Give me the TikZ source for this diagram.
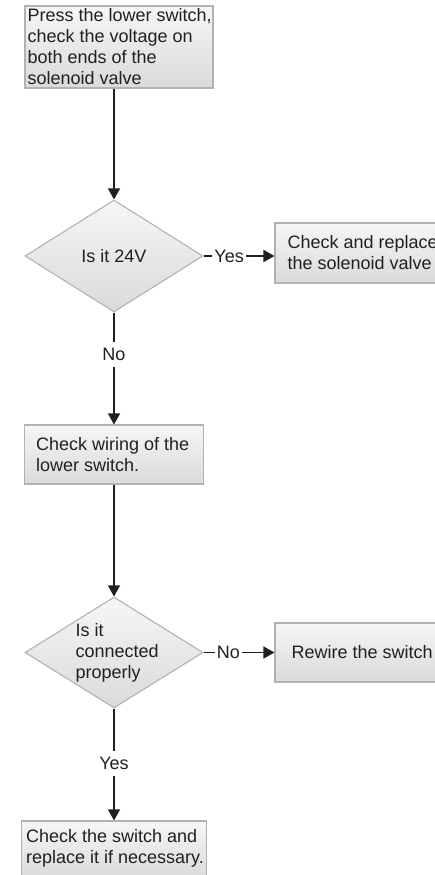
\documentclass[tikz,border=0pt]{standalone}
\usepackage{fontspec}
\setmainfont{Liberation Sans}
\usetikzlibrary{shapes.geometric,arrows.meta,shadings}
\definecolor{ink}{HTML}{231F20}
\definecolor{edge}{HTML}{B2B2B2}
\definecolor{boxtop}{HTML}{F6F6F6}
\definecolor{boxbot}{HTML}{DADADA}
\begin{document}
\begin{tikzpicture}[x=1pt,y=-1pt,
  font=\fontsize{18}{21}\selectfont,
  box/.style={draw=edge,line width=1.1pt,top color=boxtop,bottom color=boxbot,inner sep=0pt},
  dec/.style={diamond,draw=edge,line width=1.1pt,top color=boxtop,bottom color=boxbot,inner sep=0pt},
  txt/.style={text=ink,align=left,inner sep=0pt},
  arr/.style={draw=ink,line width=1.4pt,-{Triangle[width=12pt,length=11pt]}},
  lab/.style={fill=white,text=ink,inner xsep=2pt,inner ysep=6pt}]
\useasboundingbox (0,0) rectangle (435,875);
\clip (0,0) rectangle (435,875);
% boxes and decisions
\node[box,minimum width=188pt,minimum height=82pt] (b1) at (119,47) {};
\node[txt,anchor=west] (t1) at ([xshift=3pt]b1.west) {Press the lower switch,\\check the voltage on\\both ends of the\\solenoid valve};
\node[dec,minimum width=178pt,minimum height=112pt] (d1) at (114,256) {};
\node[txt] (t2) at (d1.center) {Is it 24V};
\node[box,minimum width=200pt,minimum height=60pt] (b2) at (375,253) {};
\node[txt,anchor=west] (t3) at ([xshift=13pt]b2.west) {Check and replace\\the solenoid valve};
\node[box,minimum width=179pt,minimum height=59pt] (b3) at (114,454.5) {};
\node[txt,anchor=west] (t4) at ([xshift=12pt]b3.west) {Check wiring of the\\lower switch.};
\node[dec,minimum width=178pt,minimum height=111pt] (d2) at (114,652.5) {};
\node[txt,anchor=west] (t5) at ([xshift=51pt]d2.west) {Is it\\connected\\properly};
\node[box,minimum width=200pt,minimum height=59pt] (b4) at (375,652.5) {};
\node[txt,anchor=west] (t6) at ([xshift=17pt]b4.west) {Rewire the switch};
\node[box,minimum width=185pt,minimum height=58pt] (b5) at (114,850) {};
\node[txt,anchor=west] (t7) at ([xshift=5pt,yshift=2pt]b5.west) {Check the switch and\\replace it if necessary.};
% connectors
\draw[arr] (b1.south -| d1.north) -- (d1.north);
\draw[arr] (d1.east) -- node[lab,pos=.36] (l1) {Yes} (d1.east -| b2.west);
\draw[arr] (d1.south) -- node[lab,pos=.375] (l2) {No} (d1.south |- b3.north);
\draw[arr] (b3.south) -- (d2.north);
\draw[arr] (d2.east) -- node[lab,pos=.35] (l3) {No} (b4.west);
\draw[arr] (d2.south) -- node[lab,pos=.49] (l4) {Yes} (b5.north);
\end{tikzpicture}
\end{document}
